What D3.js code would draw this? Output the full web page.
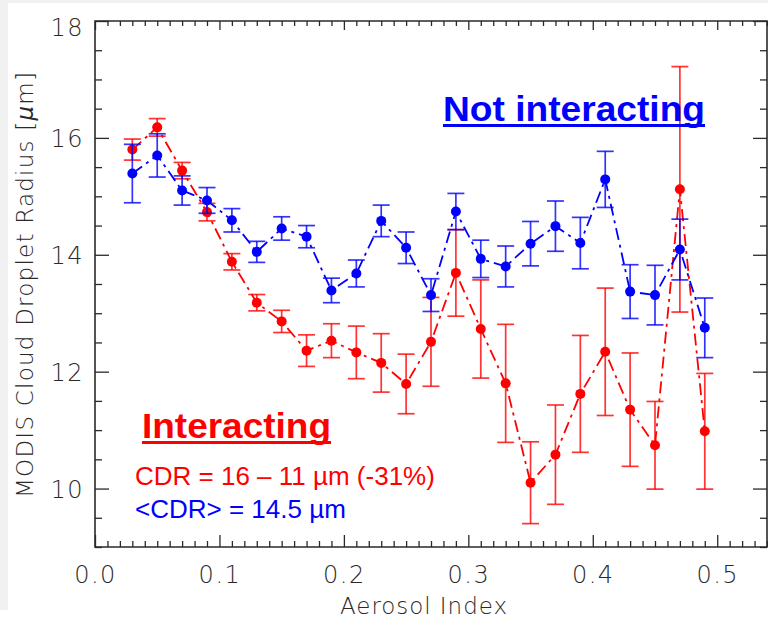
<!DOCTYPE html>
<html>
<head>
<meta charset="utf-8">
<script src="https://cdn.jsdelivr.net/npm/d3@7"></script>
<style>
  html, body { margin: 0; padding: 0; background: #ffffff; }
  svg { display: block; }
</style>
</head>
<body>
<svg id="chart" width="768" height="621"></svg>
<script>
// Aerosol index bin centres
const aerosolIndex = [0.03, 0.05, 0.07, 0.09, 0.11, 0.13, 0.15, 0.17, 0.19, 0.21, 0.23, 0.25,
                      0.27, 0.29, 0.31, 0.33, 0.35, 0.37, 0.39, 0.41, 0.43, 0.45, 0.47, 0.49];

// Not interacting clouds: mean droplet radius and its error
const notInteractingMean = [15.39, 15.70, 15.10, 14.93, 14.59, 14.05, 14.45, 14.31, 13.39, 13.68, 14.58, 14.12,
                            13.31, 14.74, 13.93, 13.80, 14.19, 14.49, 14.20, 15.29, 13.37, 13.31, 14.09, 12.75];
const notInteractingErr  = [0.50, 0.37, 0.25, 0.22, 0.20, 0.18, 0.20, 0.19, 0.21, 0.23, 0.27, 0.27,
                            0.28, 0.31, 0.32, 0.35, 0.38, 0.43, 0.44, 0.48, 0.46, 0.51, 0.52, 0.51];

// Interacting clouds: mean droplet radius and its error
const interactingMean = [15.80, 16.18, 15.44, 14.73, 13.88, 13.18, 12.86, 12.36, 12.53, 12.33, 12.15, 11.79,
                         12.51, 13.69, 12.73, 11.80, 10.10, 10.58, 11.62, 12.34, 11.35, 10.74, 15.12, 10.98];
const interactingErr  = [0.18, 0.15, 0.14, 0.15, 0.14, 0.14, 0.19, 0.27, 0.29, 0.45, 0.50, 0.51,
                         0.76, 0.74, 0.84, 1.01, 0.70, 0.85, 1.00, 1.09, 0.97, 0.75, 2.10, 0.99];

// Axis ticks
const xMajorTicks = [0.0, 0.1, 0.2, 0.3, 0.4, 0.5];
const xTickLabels = ["0.0", "0.1", "0.2", "0.3", "0.4", "0.5"];
const yMajorTicks = [10, 12, 14, 16, 18];
const yTickLabels = ["10", "12", "14", "16", "18"];

const svg = d3.select("#chart");
const W = 768, H = 621;
const plotLeft = 95, plotRight = 767, plotTop = 21, plotBottom = 547;

// Slide margin strips
svg.append("rect").attr("x", 0).attr("y", 0).attr("width", W).attr("height", H).attr("fill", "#ffffff");
svg.append("rect").attr("x", 0).attr("y", 0).attr("width", 8).attr("height", 610).attr("fill", "#f1f1f1");
svg.append("rect").attr("x", 0).attr("y", 0).attr("width", W).attr("height", 3).attr("fill", "#f1f1f1");

const x = d3.scaleLinear().domain([0, 0.54]).range([plotLeft, plotRight]);
const y = d3.scaleLinear().domain([9, 18]).range([plotBottom, plotTop]);

const xMinor = d3.range(0, 0.5401, 0.01).map(v => +v.toFixed(2)).filter(v => !xMajorTicks.includes(v));
const yMinor = d3.range(9, 18.01, 0.5).filter(v => !yMajorTicks.includes(v));

const tickFont = "'DejaVu Sans', 'Noto Sans', sans-serif";
const axisColor = "#2a2a2a";

function styleAxis(g) {
  g.select(".domain").remove();
  g.selectAll(".tick line").attr("stroke", axisColor).attr("stroke-width", 1.3);
  g.selectAll(".tick text").attr("fill", "#2a2a2a").attr("font-family", tickFont)
    .attr("font-weight", 200).attr("font-size", 24);
}

// Bottom axis
svg.append("g").attr("transform", `translate(0,${plotBottom})`)
  .call(d3.axisBottom(x).tickValues(xMajorTicks).tickSize(-12).tickPadding(19)
        .tickFormat((d, i) => xTickLabels[i]))
  .call(styleAxis)
  .call(g => g.selectAll(".tick text").attr("letter-spacing", 1.5));
svg.append("g").attr("transform", `translate(0,${plotBottom})`)
  .call(d3.axisBottom(x).tickValues(xMinor).tickSize(-6).tickFormat(""))
  .call(styleAxis);

// Top axis
svg.append("g").attr("transform", `translate(0,${plotTop})`)
  .call(d3.axisTop(x).tickValues(xMajorTicks).tickSize(-9).tickFormat(""))
  .call(styleAxis);
svg.append("g").attr("transform", `translate(0,${plotTop})`)
  .call(d3.axisTop(x).tickValues(xMinor).tickSize(-5).tickFormat(""))
  .call(styleAxis);

// Left axis
svg.append("g").attr("transform", `translate(${plotLeft},0)`)
  .call(d3.axisLeft(y).tickValues(yMajorTicks).tickSize(-14).tickPadding(11)
        .tickFormat((d, i) => yTickLabels[i]))
  .call(styleAxis)
  .call(g => g.selectAll(".tick text").attr("letter-spacing", 1.5)
        .attr("dy", d => d === 18 ? "0.62em" : "0.36em"));
svg.append("g").attr("transform", `translate(${plotLeft},0)`)
  .call(d3.axisLeft(y).tickValues(yMinor).tickSize(-7).tickFormat(""))
  .call(styleAxis);

// Right axis
svg.append("g").attr("transform", `translate(${plotRight},0)`)
  .call(d3.axisRight(y).tickValues(yMajorTicks).tickSize(-14).tickFormat(""))
  .call(styleAxis);
svg.append("g").attr("transform", `translate(${plotRight},0)`)
  .call(d3.axisRight(y).tickValues(yMinor).tickSize(-7).tickFormat(""))
  .call(styleAxis);

// Frame
svg.append("path")
  .attr("d", `M${plotLeft},${plotTop}V${plotBottom}H${plotRight}V${plotTop}Z`)
  .attr("fill", "none").attr("stroke", axisColor).attr("stroke-width", 1.6);

// Axis titles
svg.append("text")
  .attr("x", 340).attr("y", 614)
  .attr("textLength", 167).attr("lengthAdjust", "spacing")
  .attr("font-family", tickFont).attr("font-weight", 200).attr("font-size", 23).attr("fill", "#2a2a2a")
  .text("Aerosol Index");

const yTitle = svg.append("text")
  .attr("transform", "translate(33,498) rotate(-90)")
  .attr("x", 0).attr("y", 0)
  .attr("textLength", 426).attr("lengthAdjust", "spacing")
  .attr("font-family", tickFont).attr("font-weight", 200).attr("font-size", 23).attr("fill", "#2a2a2a");
yTitle.append("tspan").text("MODIS Cloud Droplet Radius [");
yTitle.append("tspan").attr("font-style", "italic").text("\u03bc");
yTitle.append("tspan").text("m]");

// Series
function drawSeries(means, errs, color) {
  const pts = aerosolIndex.map((a, i) => ({ a, m: means[i], e: errs[i] }));
  const g = svg.append("g");
  const line = d3.line().x(d => x(d.a)).y(d => y(d.m));
  g.append("path").datum(pts).attr("d", line)
    .attr("fill", "none").attr("stroke", color).attr("stroke-width", 1.8)
    .attr("stroke-dasharray", "12,5,3,5");
  const cap = 8.5;
  const eb = g.selectAll(".eb").data(pts).join("g")
    .attr("stroke", color).attr("stroke-width", 1.7).attr("stroke-opacity", 0.8);
  eb.append("line").attr("x1", d => x(d.a)).attr("x2", d => x(d.a))
    .attr("y1", d => y(d.m - d.e)).attr("y2", d => y(d.m + d.e));
  eb.append("line").attr("x1", d => x(d.a) - cap).attr("x2", d => x(d.a) + cap)
    .attr("y1", d => y(d.m + d.e)).attr("y2", d => y(d.m + d.e));
  eb.append("line").attr("x1", d => x(d.a) - cap).attr("x2", d => x(d.a) + cap)
    .attr("y1", d => y(d.m - d.e)).attr("y2", d => y(d.m - d.e));
  g.selectAll("circle").data(pts).join("circle")
    .attr("cx", d => x(d.a)).attr("cy", d => y(d.m)).attr("r", 5)
    .attr("fill", color);
}

drawSeries(interactingMean, interactingErr, "#ff0000");
drawSeries(notInteractingMean, notInteractingErr, "#0000ff");

// Annotations
const annoFont = "'Liberation Sans', Arial, sans-serif";
function heading(txt, x0, base, len, color) {
  svg.append("text").attr("x", x0).attr("y", base)
    .attr("textLength", len).attr("lengthAdjust", "spacingAndGlyphs")
    .attr("font-family", annoFont).attr("font-weight", "bold").attr("font-size", 35)
    .attr("fill", color).text(txt);
  svg.append("rect").attr("x", x0).attr("y", base + 3).attr("width", len).attr("height", 3)
    .attr("fill", color);
}
heading("Not interacting", 443, 121, 262, "#0000ff");
heading("Interacting", 142, 438, 189, "#ff0000");

svg.append("text").attr("x", 135).attr("y", 485)
  .attr("font-family", annoFont).attr("font-size", 26).attr("fill", "#ff0000")
  .text("CDR = 16 \u2013 11 \u00b5m (-31%)");
svg.append("text").attr("x", 135).attr("y", 518)
  .attr("font-family", annoFont).attr("font-size", 26).attr("fill", "#0000ff")
  .text("<CDR> = 14.5 \u00b5m");
</script>
</body>
</html>
